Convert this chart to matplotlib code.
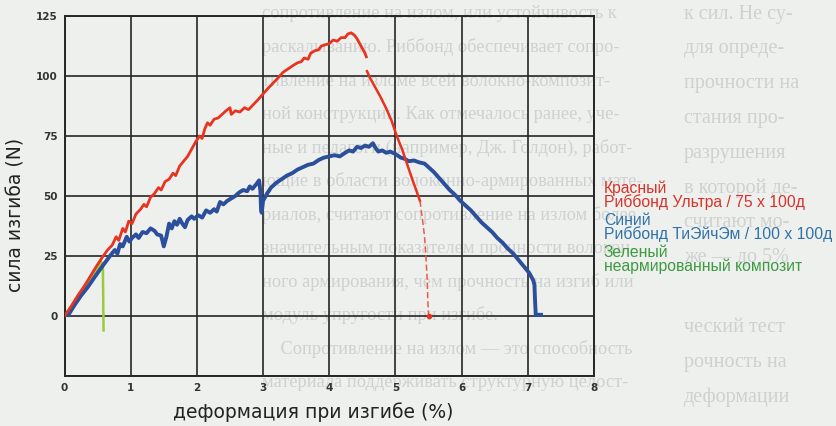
import matplotlib
matplotlib.use("Agg")
import matplotlib.pyplot as plt

# red: Риббонд Ультра (rise, then break after peak)
red_x = [0.00, 0.10, 0.20, 0.30, 0.40, 0.50, 0.56, 0.65, 0.72, 0.78, 0.82, 0.88, 0.92, 0.97,
         1.02, 1.08, 1.15, 1.20, 1.24, 1.30, 1.36, 1.42, 1.46, 1.52, 1.58, 1.64, 1.68, 1.74,
         1.80, 1.86, 1.92, 1.98, 2.04, 2.08, 2.12, 2.16, 2.20, 2.26, 2.32, 2.38, 2.44, 2.50,
         2.52, 2.58, 2.65, 2.72, 2.78, 2.85, 2.92, 3.00, 3.08, 3.15, 3.22, 3.30, 3.38, 3.46,
         3.52, 3.58, 3.62, 3.68, 3.72, 3.78, 3.84, 3.88, 3.94, 4.00, 4.06, 4.12, 4.18, 4.24,
         4.28, 4.33, 4.38, 4.42, 4.48, 4.54, 4.56]
red_y = [0.0, 4.0, 8.5, 12.5, 17.0, 21.5, 24.0, 27.5, 29.5, 33.0, 31.5, 36.5, 35.0, 39.5,
         38.5, 42.5, 44.5, 46.5, 45.5, 49.5, 51.0, 53.5, 52.5, 56.0, 57.0, 59.5, 58.5, 62.5,
         64.5, 66.5, 69.5, 72.5, 75.0, 74.0, 78.0, 80.5, 79.5, 82.0, 82.5, 84.0, 85.5, 86.8,
         84.0, 85.5, 85.0, 86.8, 86.0, 88.0, 90.0, 92.5, 95.0, 97.0, 99.0, 101.5, 103.0, 104.5,
         105.5, 106.0, 107.5, 107.0, 109.5, 110.5, 111.0, 112.5, 113.0, 113.5, 115.0, 114.5, 116.0, 116.0,
         117.5, 118.0, 117.0, 115.5, 112.5, 109.5, 108.0]
red_fall_x = [4.57, 4.62, 4.70, 4.78, 4.86, 4.94, 5.02, 5.10, 5.18, 5.26, 5.32, 5.37]
red_fall_y = [102.0, 99.0, 95.0, 91.0, 86.5, 81.5, 75.0, 69.5, 63.0, 56.5, 52.0, 48.0]
red_tail_x = [5.37, 5.41, 5.44, 5.46, 5.48, 5.49, 5.50]
red_tail_y = [48.0, 40.0, 33.0, 25.0, 15.0, 6.0, 0.0]

# blue: Риббонд ТиЭйчЭм
blue_x = [0.06, 0.15, 0.25, 0.35, 0.45, 0.54, 0.62, 0.70, 0.76, 0.80, 0.84, 0.88, 0.94, 0.98,
          1.02, 1.08, 1.12, 1.18, 1.24, 1.30, 1.36, 1.40, 1.46, 1.50, 1.54, 1.58, 1.62, 1.66,
          1.70, 1.74, 1.78, 1.82, 1.86, 1.92, 1.96, 2.02, 2.08, 2.14, 2.20, 2.26, 2.30, 2.35,
          2.40, 2.46, 2.52, 2.58, 2.64, 2.70, 2.76, 2.80, 2.84, 2.90, 2.94, 2.96, 2.97, 2.98,
          3.00, 3.06, 3.12, 3.20, 3.28, 3.36, 3.44, 3.52, 3.60, 3.68, 3.76, 3.84, 3.92, 4.00,
          4.08, 4.16, 4.24, 4.30, 4.36, 4.42, 4.48, 4.54, 4.60, 4.66, 4.70, 4.74, 4.80, 4.86,
          4.92, 5.00, 5.08, 5.14, 5.20, 5.28, 5.36, 5.44, 5.50, 5.58, 5.66, 5.74, 5.82, 5.90,
          5.98, 6.06, 6.14, 6.22, 6.30, 6.38, 6.46, 6.54, 6.62, 6.70, 6.78, 6.84, 6.90, 6.96,
          7.02, 7.08, 7.10, 7.11, 7.12, 7.20]
blue_y = [0.5, 4.5, 8.5, 12.0, 16.0, 19.5, 22.5, 25.5, 27.5, 26.0, 30.0, 29.0, 33.0, 31.0,
          32.5, 34.0, 32.5, 35.0, 34.5, 36.5, 35.5, 34.0, 33.5, 29.0, 33.0, 38.5, 36.5, 39.5,
          38.0, 40.5, 38.5, 37.0, 40.0, 41.5, 40.5, 42.0, 41.0, 44.0, 43.0, 44.5, 43.5, 47.5,
          46.5, 48.0, 49.0, 50.0, 51.5, 52.5, 52.0, 54.0, 53.0, 55.0, 56.5, 52.0, 44.0, 43.0,
          48.0, 51.0, 53.5, 55.5, 57.0, 58.5, 59.5, 61.0, 62.0, 63.0, 63.5, 65.0, 66.0, 66.5,
          67.0, 66.5, 68.0, 69.0, 68.5, 70.5, 70.0, 71.0, 70.5, 72.0, 70.0, 68.5, 69.0, 68.0,
          68.5, 67.5, 66.0, 65.5, 64.5, 64.8, 64.0, 63.5, 62.0, 60.0, 57.5, 55.0, 52.5, 50.5,
          48.0, 46.0, 44.0, 41.5, 39.0, 37.0, 35.0, 32.5, 30.5, 28.0, 26.0, 24.0, 22.0, 20.0,
          18.0, 15.0, 13.0, 6.0, 0.5, 0.5]

# green: неармированный композит
green_x = [0.00, 0.20, 0.40, 0.56, 0.58, 0.59]
green_y = [0.0, 8.0, 16.0, 22.5, 20.0, -6.0]

x_ticks = [0, 1, 2, 3, 4, 5, 6, 7, 8]
y_ticks = [-25, 0, 25, 50, 75, 100, 125]
y_tick_labels = ["", "0", "25", "50", "75", "100", "125"]

legend_lines = [
    ("Красный\nРиббонд Ультра / 75 x 100д", "#d8332a"),
    ("Синий\nРиббонд ТиЭйчЭм / 100 x 100д", "#2f72a8"),
    ("Зеленый\nнеармированный композит", "#3d9a40"),
]

# faint book text showing through the scan
page_mid = [
    "сопротивление на излом, или устойчивость к",
    "раскалыванию. Риббонд обеспечивает сопро-",
    "тивление на изломе всей волокно-композит-",
    "ной конструкции. Как отмечалось ранее, уче-",
    "ные и педагоги (например, Дж. Голдон), работ-",
    "ющие в области волоконно-армированных мате-",
    "риалов, считают сопротивление на излом более",
    "значительным показателем прочности волокон-",
    "ного армирования, чем прочность на изгиб или",
    "модуль упругости при изгибе.",
    "    Сопротивление на излом — это способность",
    "материала поддерживать структурную целост-",
]
page_right = [
    "к сил. Не су-", "для опреде-", "прочности на", "стания про-",
    "разрушения", "в которой де-", "считают мо-", "же — до 5%",
    "", "ческий тест", "рочность на", "деформации",
]

bg = "#eef0ee"
fig = plt.figure(figsize=(8.37, 4.26), dpi=100, facecolor=bg)
W, H = 837, 426

for i, line in enumerate(page_mid):
    fig.text(262 / W, 1 - (14 + i * 33.5) / H, line, fontsize=13.2,
             family="Liberation Serif", color="#cfd1d1", va="center", zorder=-5)
for i, line in enumerate(page_right):
    fig.text(684 / W, 1 - (14 + i * 34.8) / H, line, fontsize=14.5,
             family="Liberation Serif", color="#cfd1d1", va="center", zorder=-5)

ax = fig.add_axes([64.5 / W, 50 / H, 529.5 / W, 360 / H])
ax.set_facecolor("none")

ax.plot(green_x, green_y, color="#9acb3a", lw=1.8, zorder=4)
ax.plot(blue_x, blue_y, color="#2c4f9c", lw=2.8, zorder=5)
ax.plot(red_x, red_y, color="#e8331f", lw=2.0, zorder=6)
ax.plot(red_fall_x, red_fall_y, color="#e8331f", lw=1.8, zorder=6)
ax.plot(red_tail_x, red_tail_y, color="#ee5a48", lw=1.1, ls=(0, (4, 2)), zorder=6)
ax.plot(red_tail_x[-1:], red_tail_y[-1:], "o", color="#e8331f", ms=3, zorder=6)

ax.set_xlim(0, 8)
ax.set_ylim(-25, 125)
ax.set_xticks(x_ticks)
ax.set_yticks(y_ticks)
ax.set_yticklabels(y_tick_labels)
ax.grid(True, color="#262626", lw=1.2, zorder=1)
ax.set_axisbelow(True)
for s in ax.spines.values():
    s.set_color("#262626")
    s.set_linewidth(1.4)
ax.tick_params(length=0, labelsize=7.5, labelcolor="#333333", pad=5)
for lab in ax.get_xticklabels() + ax.get_yticklabels():
    lab.set_fontweight("bold")
    lab.set_family("DejaVu Sans")

fig.text(313 / W, 1 - 412 / H, "деформация при изгибе (%)", fontsize=13.5,
         family="DejaVu Sans", color="#222222", ha="center", va="center")
fig.text(16 / W, 1 - 215 / H, "сила изгиба (N)", fontsize=13.5, rotation=90,
         family="DejaVu Sans", color="#222222", ha="center", va="center")

y0 = 181
for text, col in legend_lines:
    fig.text(604 / W, 1 - y0 / H, text, fontsize=11.3, family="Liberation Sans",
             color=col, ha="left", va="top", linespacing=0.85)
    y0 += 32

fig.savefig("out.png", dpi=100, facecolor=bg)
